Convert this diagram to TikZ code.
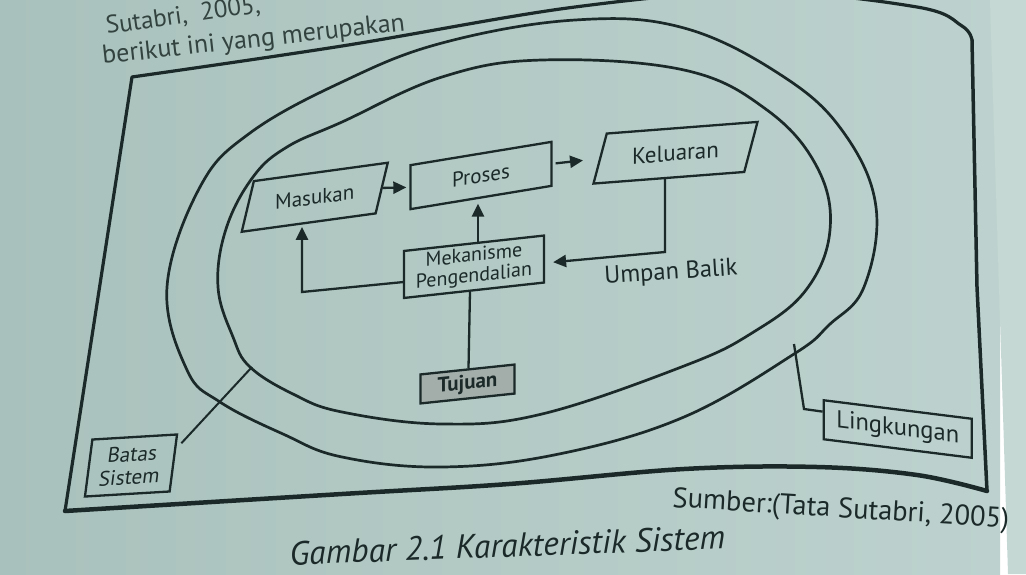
\documentclass[tikz,border=0pt]{standalone}
\usepackage{fontspec}
\setmainfont{PT Sans}
\usetikzlibrary{arrows.meta,shapes.geometric,calc}
\definecolor{page}{HTML}{BDD2CE}
\definecolor{pagel}{HTML}{A9C1BC}
\definecolor{strip}{HTML}{C6D8D4}
\definecolor{ink}{HTML}{1B2A28}
\definecolor{tuj}{HTML}{A3AEAB}
\definecolor{fade}{HTML}{33433F}
\begin{document}
\begin{tikzpicture}[x=1pt,y=-1pt,
  fs/.style={font=\fontsize{#1}{#1}\selectfont},
  box/.style={draw=ink, line width=2.3pt, inner sep=0pt, text=ink, align=center},
  para/.style={box, trapezium, trapezium stretches body=true,
     trapezium left angle=51, trapezium right angle=129},
  conn/.style={draw=ink, line width=2.3pt},
  arr/.style={conn, -{Triangle[length=13pt,width=12pt]}},
  ring/.style={draw=ink, line width=2.7pt},
  frameline/.style={draw=ink, line width=3.2pt, line cap=round, line join=round}]
\useasboundingbox (0,0) rectangle (1026,574);
\clip (0,0) rectangle (1026,574);
\shade[left color=pagel, right color=page] (0,0) rectangle (1000,574);
\fill[strip] (990,0) -- (1026,0) -- (1026,574) -- (1008,574) -- cycle;

% text of the page above the figure
\node[anchor=base west, rotate=8, fs=25, text=fade, inner sep=0pt] (t1) at (107,34) {Sutabri,\ \ 2005,};
\node[anchor=base west, rotate=6.3, fs=26, text=fade, inner sep=0pt] (t2) at (103,64) {berikut ini yang merupakan};

% frame
\draw[frameline] (65,511) -- (132,77);
\draw[frameline] plot[smooth, tension=0.6] coordinates {(132,77) (342,46) (575,7) (760,-8) (917,7) (962,26) (972,40)};
\draw[frameline, line width=3.5pt] (972,40) -- (977,287) -- (987,491);
\draw[frameline, line width=4.5pt] plot[smooth, tension=0.6] coordinates {(987,491) (917,475) (817,467) (684,469) (509,484) (342,494) (65,511)};

% rings
\draw[ring] plot[smooth cycle, tension=0.65] coordinates {(575,20) (684,28) (784,77) (844,133) (876,207) (864,287) (829,325) (794,354) (684,417) (559,454) (442,467) (342,457) (283,434) (220,402) (187,370) (167,287) (200,187) (250,133) (342,82) (442,43)};
\draw[ring] plot[smooth cycle, tension=0.65] coordinates {(542,60) (684,70) (767,110) (817,167) (830,230) (806,290) (752,333) (684,366) (542,414) (442,424) (342,412) (293,394) (250,367) (233,337) (218,287) (226,229) (253,177) (287,147) (342,122) (442,77)};

% boxes
\node[para, fs=21, minimum width=146pt, minimum height=49pt, yslant=0.137] (masukan) at (314.75,197.25) {Masukan};
\node[box, fs=21, minimum width=141pt, minimum height=44pt, yslant=0.165] (proses) at (481,175.5) {Proses};
\node[para, fs=23, minimum width=164pt, minimum height=49pt, yslant=0.077] (keluaran) at (675.5,152.75) {Keluaran};
\node[box, minimum width=140pt, minimum height=47pt, yslant=0.11, font=\fontsize{20}{20.5}\selectfont] (mek) at (474,266.75) {Mekanisme\\Pengendalian};
\node[box, fill=tuj, minimum width=94pt, minimum height=29pt, yslant=0.105, font=\fontsize{21}{21}\selectfont\bfseries] (tujuan) at (467.5,384) {Tujuan};
\node[box, minimum width=84pt, minimum height=57pt, xslant=0.13, yslant=0.06, font=\fontsize{21}{23}\selectfont] (batas) at (131,465.5) {Batas\\Sistem};
\node[box, fs=24.5, minimum width=148pt, minimum height=39pt, yslant=-0.125] (lingk) at (897.75,429) {Lingkungan};
\node[fs=24.5, text=ink, rotate=3.5, inner sep=0pt] (umpan) at (671,273) {Umpan Balik};

% connectors
\coordinate (lb) at (302,292);
\coordinate (fb) at (665,252);
\coordinate (bl1) at (252,367);
\coordinate (lk1) at (794,344);
\coordinate (lk2) at (804,409);
\draw[arr, shorten >=3pt] (masukan.east) -- (proses.west);
\draw[arr, shorten <=3pt, shorten >=16pt] (proses.east) -- (keluaran.west);
\draw[arr, shorten >=5pt] ([xshift=4pt]mek.north) -- ([xshift=-3pt]proses.south);
\draw[conn] ([xshift=1pt]tujuan.north) -- ([xshift=-4pt]mek.south);
\draw[arr, shorten >=8pt] (keluaran.south -| fb) -- (fb) -- ([yshift=-4pt]mek.east);
\draw[arr, shorten >=4pt] ([yshift=-7.5pt]mek.west) -- (lb) -- (lb |- masukan.south);
\draw[conn, line width=2pt] ([xshift=3pt,yshift=-10pt]batas.north east) -- (bl1);
\draw[conn] (lk1) -- (lk2) -- ([yshift=8pt]lingk.west);

% source and caption
\node[anchor=base west, rotate=-3.5, fs=28.5, text=ink, inner sep=0pt] (src) at (672,507) {Sumber:(Tata Sutabri, 2005)};
\node[anchor=base west, rotate=2.1, text=ink, inner sep=0pt, font=\fontsize{33.5}{33.5}\selectfont\itshape] (cap) at (290,565) {Gambar 2.1 Karakteristik Sistem};
\end{tikzpicture}
\end{document}
